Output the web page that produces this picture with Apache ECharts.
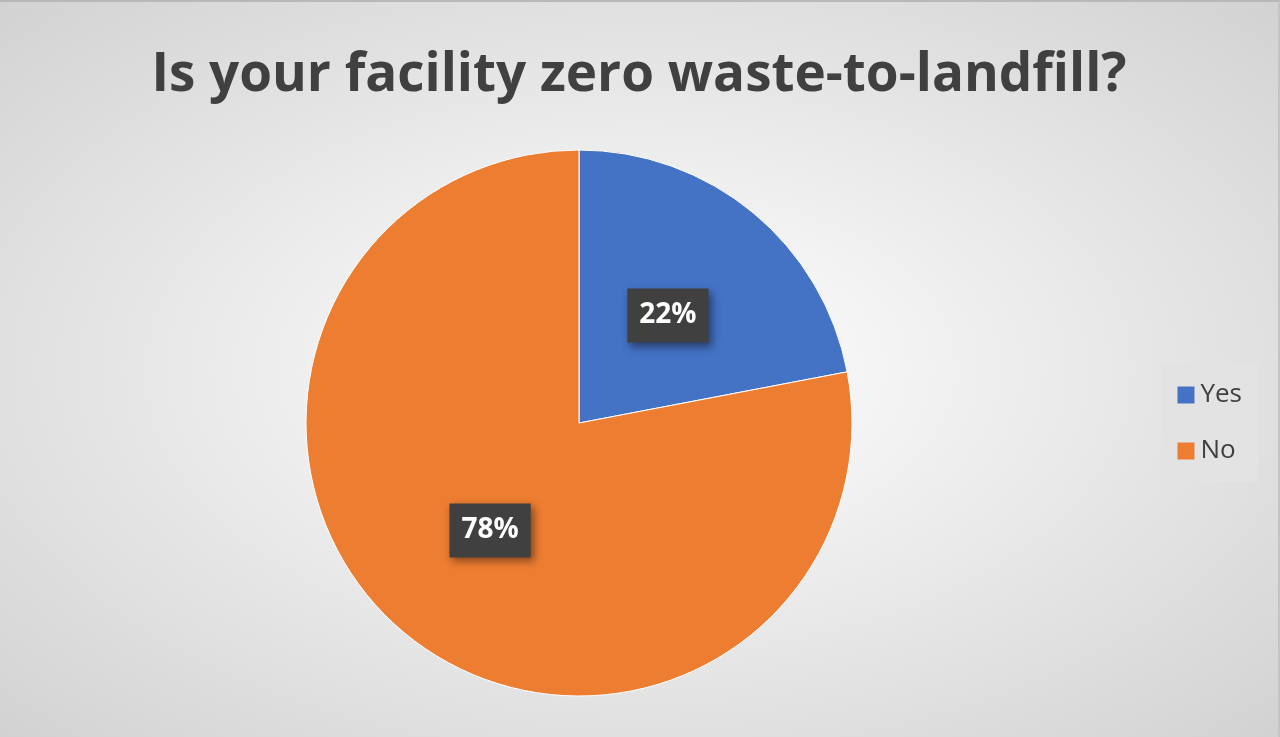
<!DOCTYPE html>
<html>
<head>
<meta charset="utf-8">
<script src="https://cdn.jsdelivr.net/npm/echarts@6/dist/echarts.min.js"></script>
<style>
  html, body { margin: 0; padding: 0; }
  #main {
    width: 1280px; height: 737px;
    box-sizing: border-box;
    border-top: 2px solid #b8b8b8;
    border-right: 2px solid #c4c4c4;
    background: radial-gradient(ellipse at 50% 50%, #ffffff 0%, #f0f0f0 35%, #d2d2d2 100%);
  }
</style>
</head>
<body>
<div id="main"></div>
<script>
var categories = ['Yes', 'No'];
var values = [22, 78];
var colors = ['#4472C4', '#ED7D31'];

var myChart = echarts.init(document.getElementById('main'), null, { renderer: 'canvas', width: 1278, height: 735 });

var pieData = categories.map(function (c, i) {
    return { name: c, value: values[i], itemStyle: { color: colors[i] } };
});

var option = {
    backgroundColor: 'transparent',
    animation: false,
    title: {
        text: 'Is your facility zero waste-to-landfill?',
        left: 'center',
        top: 42,
        textStyle: {
            fontFamily: 'Open Sans',
            fontWeight: 'bold',
            fontSize: 53,
            color: '#404040'
        }
    },
    legend: {
        orient: 'vertical',
        right: 20,
        top: 362,
        backgroundColor: '#e3e3e3',
        padding: [18, 16, 18, 16],
        itemWidth: 17,
        itemHeight: 17,
        itemGap: 30,
        icon: 'rect',
        itemStyle: { borderWidth: 0 },
        textStyle: {
            fontFamily: 'Open Sans',
            fontSize: 26,
            color: '#404040',
            padding: [0, 0, 0, 1]
        },
        data: categories
    },
    series: [{
        type: 'pie',
        center: [579, 421],
        radius: 273,
        startAngle: 90,
        clockwise: true,
        data: pieData,
        itemStyle: { borderColor: '#ffffff', borderWidth: 1 },
        label: {
            show: true,
            position: 'inside',
            formatter: '{d}%',
            fontFamily: 'Open Sans',
            fontWeight: 'bold',
            fontSize: 28,
            color: '#ffffff',
            backgroundColor: '#404040',
            padding: [13, 12, 13, 12],
            shadowColor: 'rgba(0,0,0,0.45)',
            shadowBlur: 8,
            shadowOffsetX: 3,
            shadowOffsetY: 4
        },
        labelLine: { show: false },
        emphasis: { disabled: true }
    }]
};

myChart.setOption(option);
</script>
</body>
</html>
